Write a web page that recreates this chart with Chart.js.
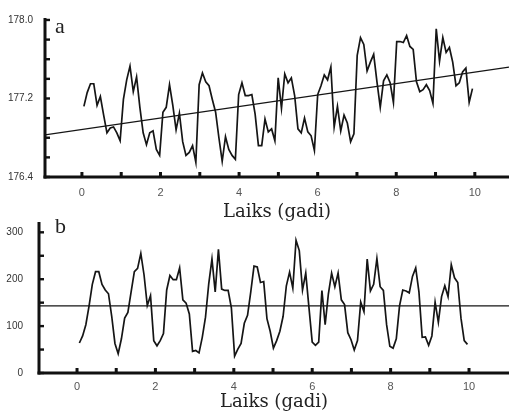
<!DOCTYPE html>
<html>
<head>
<meta charset="utf-8">
<script src="https://cdn.jsdelivr.net/npm/chart.js@4/dist/chart.umd.min.js"></script>
<style>
  html, body { margin: 0; padding: 0; background: #fff; overflow: hidden; }
  #wrap { position: relative; width: 509px; height: 411px; }
  canvas { position: absolute; left: 0; }
  #chartA { top: 0; }
  #chartB { top: 200px; }
</style>
</head>
<body>
<div id="wrap">
  <canvas id="chartA" width="509" height="223"></canvas>
  <canvas id="chartB" width="509" height="213"></canvas>
</div>
<script>
// panel a: monthly series (first and last sample times in years)
const sampleStartA = 0.05;
const sampleEndA = 9.94;
const seriesA = [
  177.12, 177.26, 177.35, 177.35, 177.13, 177.22, 177.03, 176.85, 176.90, 176.91,
  176.85, 176.77, 177.19, 177.39, 177.53, 177.27, 177.42, 177.11, 176.85, 176.73,
  176.85, 176.87, 176.68, 176.62, 177.06, 177.11, 177.34, 177.13, 176.88, 177.05,
  176.76, 176.62, 176.65, 176.72, 176.55, 177.34, 177.46, 177.37, 177.33, 177.19,
  177.06, 176.80, 176.56, 176.81, 176.68, 176.62, 176.58, 177.24, 177.36, 177.23,
  177.23, 177.24, 177.04, 176.72, 176.72, 176.99, 176.86, 176.89, 176.77, 177.41,
  177.10, 177.45, 177.36, 177.41, 177.23, 176.89, 176.85, 177.00, 176.86, 176.82,
  176.67, 177.24, 177.33, 177.44, 177.39, 177.52, 176.91, 177.12, 176.87, 177.03,
  176.95, 176.76, 176.84, 177.64, 177.82, 177.75, 177.48, 177.57, 177.65, 177.37,
  177.11, 177.38, 177.44, 177.36, 177.16, 177.78, 177.78, 177.77, 177.84, 177.73,
  177.70, 177.37, 177.27, 177.29, 177.34, 177.28, 177.15, 177.91, 177.58, 177.82,
  177.67, 177.72, 177.57, 177.33, 177.36, 177.47, 177.51, 177.16, 177.30
];
// linear trend, read at the two ends of the axis
const trendA = [{ x: -0.94, y: 176.83 }, { x: 10.87, y: 177.52 }];
const yTicksA = [176.4, 176.6, 176.8, 177.0, 177.2, 177.4, 177.6, 177.8, 178.0];
const yLabelsA = [176.4, 177.2, 178.0];

// panel b
const sampleStartB = 0.06;
const sampleEndB = 9.96;
const seriesB = [
  64, 79, 103, 143, 189, 216, 216, 189, 177, 169,
  121, 63, 41, 73, 117, 129, 173, 216, 223, 255,
  209, 144, 165, 69, 58, 69, 84, 177, 208, 199,
  199, 224, 156, 149, 126, 46, 48, 43, 76, 119,
  190, 243, 173, 264, 179, 176, 176, 139, 36, 51,
  63, 106, 123, 173, 228, 226, 193, 195, 116, 89,
  53, 69, 89, 121, 186, 215, 181, 283, 261, 177,
  213, 139, 66, 59, 66, 176, 103, 169, 213, 184,
  213, 156, 146, 86, 71, 49, 69, 151, 131, 243,
  175, 189, 244, 184, 176, 103, 57, 53, 73, 143,
  177, 175, 171, 206, 224, 173, 76, 77, 59, 79,
  151, 108, 163, 186, 163, 231, 203, 193, 117, 69,
  61
];
const meanB = [{ x: -0.97, y: 143 }, { x: 11.02, y: 143 }];
const yTicksB = [0, 50, 100, 150, 200, 250, 300];
const yLabelsB = [0, 100, 200, 300];

const xTicks = [0, 1, 2, 3, 4, 5, 6, 7, 8, 9, 10];
const xLabels = [0, 2, 4, 6, 8, 10];
const axisTitle = "Laiks (gadi)";

const toPoints = (vals, t0, t1) =>
  vals.map((v, i) => ({ x: t0 + i * (t1 - t0) / (vals.length - 1), y: v }));

// thick axis lines with small inward tick marks, plus the panel letter
const frame = (letter) => ({
  id: 'frame',
  afterDraw(chart) {
    const { ctx, chartArea: a, scales: { x, y } } = chart;
    ctx.save();
    ctx.fillStyle = '#111';
    ctx.fillRect(a.left - 1.5, a.top, 3, a.bottom - a.top + 1.5);
    ctx.fillRect(a.left - 1.5, a.bottom - 1.5, a.right - a.left + 1.5, 3);
    y.ticks.forEach(t => {
      const py = y.getPixelForValue(t.value);
      ctx.fillRect(a.left, py - 1.2, 5, 2.4);
    });
    x.ticks.forEach(t => {
      const px = x.getPixelForValue(t.value);
      ctx.fillRect(px - 1.5, a.bottom - 5, 3, 4);
    });
    ctx.font = '22px "Liberation Serif"';
    ctx.fillStyle = '#222';
    ctx.textBaseline = 'alphabetic';
    ctx.fillText(letter, 55, 33);
    ctx.restore();
  }
});

const makeChart = (id, cfg) => new Chart(document.getElementById(id), {
  type: 'line',
  data: {
    datasets: [
      { data: cfg.series, borderColor: '#151515', borderWidth: 1.7, pointRadius: 0, tension: 0 },
      { data: cfg.trend, borderColor: '#151515', borderWidth: 1.3, pointRadius: 0 }
    ]
  },
  options: {
    responsive: false,
    animation: false,
    layout: { padding: { top: cfg.top, right: 0, bottom: 0, left: 0 } },
    plugins: { legend: { display: false }, tooltip: { enabled: false } },
    scales: {
      x: {
        type: 'linear',
        min: cfg.xMin,
        max: cfg.xMax,
        grid: { display: false, drawTicks: false },
        border: { display: false },
        afterBuildTicks: s => { s.ticks = xTicks.map(v => ({ value: v })); },
        afterFit: s => { s.height = cfg.xHeight; },
        ticks: {
          padding: cfg.xPad,
          autoSkip: false,
          maxRotation: 0,
          color: '#555',
          font: { family: 'Liberation Sans', size: 11 },
          callback: v => xLabels.includes(v) ? String(v) : ''
        },
        title: {
          display: true,
          text: axisTitle,
          color: '#222',
          padding: 0,
          font: { family: 'DejaVu Serif', size: 18 }
        }
      },
      y: {
        min: cfg.yMin,
        max: cfg.yMax,
        grid: { display: false, drawTicks: false },
        border: { display: false },
        afterBuildTicks: s => { s.ticks = cfg.yTicks.map(v => ({ value: v })); },
        afterFit: s => { s.width = cfg.yWidth; },
        ticks: {
          padding: cfg.yPad,
          autoSkip: false,
          color: '#333',
          font: { family: 'Liberation Sans', size: 10 },
          callback: v => cfg.yLabels.some(l => Math.abs(l - v) < 1e-6) ? cfg.fmt(v) : ''
        }
      }
    }
  },
  plugins: [frame(cfg.letter)]
});

makeChart('chartA', {
  series: toPoints(seriesA, sampleStartA, sampleEndA),
  trend: trendA,
  top: 13, xMin: -0.94, xMax: 10.87, xHeight: 46, xPad: 9,
  yMin: 176.4, yMax: 178.02, yTicks: yTicksA, yLabels: yLabelsA,
  yWidth: 45, yPad: 12, fmt: v => v.toFixed(1), letter: 'a'
});

makeChart('chartB', {
  series: toPoints(seriesB, sampleStartB, sampleEndB),
  trend: meanB,
  top: 12, xMin: -0.97, xMax: 11.02, xHeight: 40, xPad: 7,
  yMin: 0, yMax: 322, yTicks: yTicksB, yLabels: yLabelsB,
  yWidth: 39, yPad: 16, fmt: v => String(v), letter: 'b'
});
</script>
</body>
</html>
